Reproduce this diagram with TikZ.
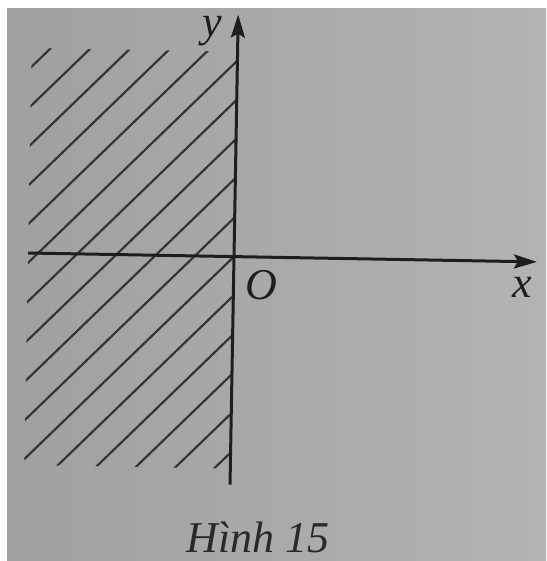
\documentclass[tikz,border=0pt]{standalone}
\usepackage{fontspec}
\setmainfont{Liberation Serif}
\usetikzlibrary{arrows.meta}
\definecolor{bgL}{RGB}{160,160,158}
\definecolor{bgR}{RGB}{180,180,178}
\definecolor{ink}{RGB}{30,30,30}
\tikzset{
  axisline/.style={line width=3pt, draw=ink, -{Stealth[length=23pt,width=14pt,inset=4pt]}},
  hatchline/.style={line width=2.2pt, draw=ink!90},
  lbl/.style={inner sep=0pt, text=ink, font=\fontsize{44}{48}\selectfont\itshape},
  captiontext/.style={inner sep=0pt, text=ink!95, font=\fontsize{44}{48}\selectfont\itshape}
}
\begin{document}
\begin{tikzpicture}[x=1pt,y=-1pt]
\useasboundingbox (0,0) rectangle (546,561);
\fill[white] (-5,-5) rectangle (560,575);
\begin{scope}
  \clip (0,0) rectangle (546,561);
  \shade[left color=bgL, right color=bgR] (7,9) rectangle (570,585);
\end{scope}
\begin{scope}[shift={(234,256.6)}, rotate=-1]
  \coordinate (O) at (0,0);
  \coordinate (xl) at (-206,0);
  \coordinate (xr) at (303,0);
  \coordinate (yb) at (0,228);
  \coordinate (yt) at (0,-242);
  \begin{scope}
    \clip (-206,-205) rectangle (0,212);
    \foreach \k in {-10,...,5}{
      \draw[hatchline] ({39.2*\k-240},240) -- ({39.2*\k+240},-240);
    }
  \end{scope}
  \draw[axisline] (xl) -- (xr);
  \draw[axisline] (yb) -- (yt);
\end{scope}
\node[lbl] (ylab) at (212,31.5) {y};
\node[lbl] (olab) at (261,285) {O};
\node[lbl] (xlab) at (522.5,287.5) {x};
\node[captiontext, anchor=base] (caption) at (258,552) {Hình 15};
\end{tikzpicture}
\end{document}
